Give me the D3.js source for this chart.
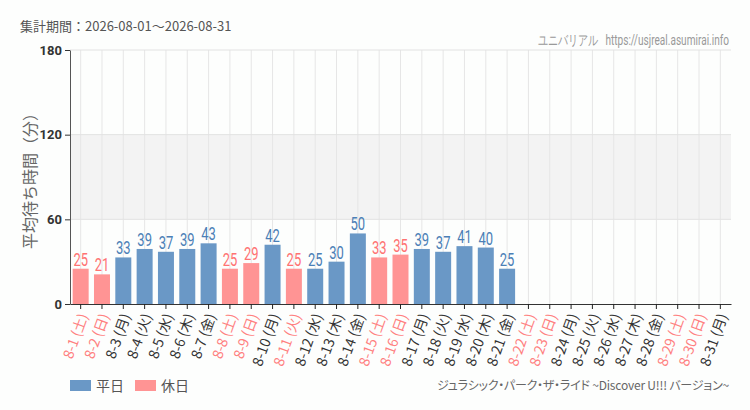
<!DOCTYPE html>
<html>
<head>
<meta charset="utf-8">
<script src="https://cdn.jsdelivr.net/npm/d3@7"></script>
<style>
  body { margin: 0; background: #fdfefd; }
  svg { display: block; }
  .cjk { font-family: "Noto Sans CJK JP", "Noto Sans", sans-serif; }
  .palt { font-feature-settings: "palt"; }
  .narrow { font-family: "Roboto", "Noto Sans", sans-serif; }
</style>
</head>
<body>
<svg id="chart" width="750" height="410"></svg>
<script>
const dates = ['8-1','8-2','8-3','8-4','8-5','8-6','8-7','8-8','8-9','8-10','8-11','8-12','8-13','8-14','8-15','8-16',
    '8-17','8-18','8-19','8-20','8-21','8-22','8-23','8-24','8-25','8-26','8-27','8-28','8-29','8-30','8-31'];
const weekdays = ['土','日','月','火','水','木','金','土','日','月','火','水','木','金','土','日',
    '月','火','水','木','金','土','日','月','火','水','木','金','土','日','月'];
const holidays = ['8-1','8-2','8-8','8-9','8-11','8-15','8-16','8-22','8-23','8-29','8-30'];
const waits = [25,21,33,39,37,39,43,25,29,42,25,25,30,50,33,35,39,37,41,40,25,
    null,null,null,null,null,null,null,null,null,null];
const yTicks = [0, 60, 120, 180];

let config = {
    left: 70,
    right: 731,
    top: 50,
    bottom: 304,
    blue: '#6a98c6',
    pink: '#ff9494',
    blueText: '#4b7fb6',
    pinkText: '#ff7272',
}

const svg = d3.select('#chart');

let x = d3.scaleBand()
    .domain(dates)
    .range([config.left, config.right])
    .paddingInner(0.25)
    .paddingOuter(0.125);

let y = d3.scaleLinear()
    .domain([0, 180])
    .range([config.bottom, config.top]);

const isHoliday = d => holidays.includes(d);
const cx = d => x(d) + x.bandwidth() / 2;

// header
svg.append('text').classed('cjk', true)
    .attr('x', 20).attr('y', 31)
    .attr('font-size', 13).attr('fill', '#555')
    .text('集計期間：2026-08-01～2026-08-31');

// condensed look: squeeze horizontally
svg.append('text').classed('narrow', true)
    .attr('transform', 'translate(729,45) scale(0.72,1)')
    .attr('text-anchor', 'end')
    .attr('font-size', 14).attr('fill', '#999')
    .attr('xml:space', 'preserve')
    .text('ユニバリアル   https://usjreal.asumirai.info');

// grid band + lines
svg.append('rect')
    .attr('x', config.left).attr('y', y(120))
    .attr('width', config.right - config.left).attr('height', y(60) - y(120))
    .attr('fill', '#f3f3f3');

svg.append('g').selectAll('line').data(dates).join('line')
    .attr('x1', cx).attr('x2', cx)
    .attr('y1', config.top).attr('y2', config.bottom)
    .attr('stroke', '#e6e6e6');

svg.append('g').selectAll('line').data(yTicks.slice(1)).join('line')
    .attr('x1', config.left).attr('x2', config.right)
    .attr('y1', d => y(d)).attr('y2', d => y(d))
    .attr('stroke', '#e2e2e2');

// bars
const rows = dates.map((d, i) => ({ date: d, wd: weekdays[i], v: waits[i] }));
const hasData = rows.filter(r => r.v !== null);

svg.append('g').selectAll('rect').data(hasData).join('rect')
    .attr('x', d => x(d.date))
    .attr('y', d => y(d.v))
    .attr('width', x.bandwidth())
    .attr('height', d => y(0) - y(d.v))
    .attr('fill', d => isHoliday(d.date) ? config.pink : config.blue);

svg.append('g').selectAll('text').data(hasData).join('text')
    .classed('narrow', true)
    .attr('transform', d => 'translate(' + cx(d.date) + ',' + (y(d.v) - 3) + ') scale(0.72,1)')
    .attr('text-anchor', 'middle')
    .attr('font-size', 18)
    .attr('fill', d => isHoliday(d.date) ? config.pinkText : config.blueText)
    .text(d => d.v);

// axes
let yAxis = d3.axisLeft(y).tickValues(yTicks).tickSize(5).tickSizeOuter(0);
let yg = svg.append('g').attr('transform', 'translate(' + config.left + ',0)').call(yAxis);
yg.select('.domain').attr('stroke', '#555');
yg.selectAll('.tick line').attr('stroke', '#333');
yg.selectAll('.tick text')
    .attr('font-family', 'Roboto, sans-serif')
    .attr('font-weight', 'bold')
    .attr('font-size', 13)
    .attr('fill', '#333');

let xAxis = d3.axisBottom(x).tickSize(5).tickSizeOuter(0).tickFormat('');
let xg = svg.append('g').attr('transform', 'translate(0,' + config.bottom + ')').call(xAxis);
xg.select('.domain').attr('stroke', '#333');
xg.selectAll('.tick line').attr('stroke', '#222');

svg.append('g').selectAll('text').data(rows).join('text')
    .classed('cjk', true)
    .attr('transform', d => 'translate(' + (cx(d.date) + 3) + ',' + (config.bottom + 10) + ') rotate(-70)')
    .attr('text-anchor', 'end')
    .attr('dy', '0.35em')
    .attr('font-size', 14)
    .attr('fill', d => isHoliday(d.date) ? '#ff8080' : '#333')
    .text(d => d.date + ' (' + d.wd + ')');

// y label
svg.append('text').classed('cjk', true)
    .attr('transform', 'translate(36,' + ((config.top + config.bottom) / 2) + ') rotate(-90)')
    .attr('text-anchor', 'middle')
    .attr('font-size', 16).attr('fill', '#666')
    .text('平均待ち時間（分）');

// legend
const legend = [{ text: '平日', color: config.blue }, { text: '休日', color: config.pink }];
let lg = svg.append('g').attr('transform', 'translate(70,380)');
let lrow = lg.selectAll('g').data(legend).join('g')
    .attr('transform', (d, i) => 'translate(' + (65 * i) + ',0)');
lrow.append('rect').attr('width', 21).attr('height', 11).attr('fill', d => d.color);
lrow.append('text').classed('cjk', true)
    .attr('x', 26).attr('y', 11)
    .attr('font-size', 14).attr('fill', '#555')
    .text(d => d.text);

svg.append('text').classed('cjk', true).classed('palt', true)
    .attr('x', 729).attr('y', 390)
    .attr('text-anchor', 'end')
    .attr('font-size', 12).attr('fill', '#666')
    .attr('letter-spacing', -0.2)
    .text('ジュラシック・パーク・ザ・ライド ~Discover U!!! バージョン~');
</script>
</body>
</html>
